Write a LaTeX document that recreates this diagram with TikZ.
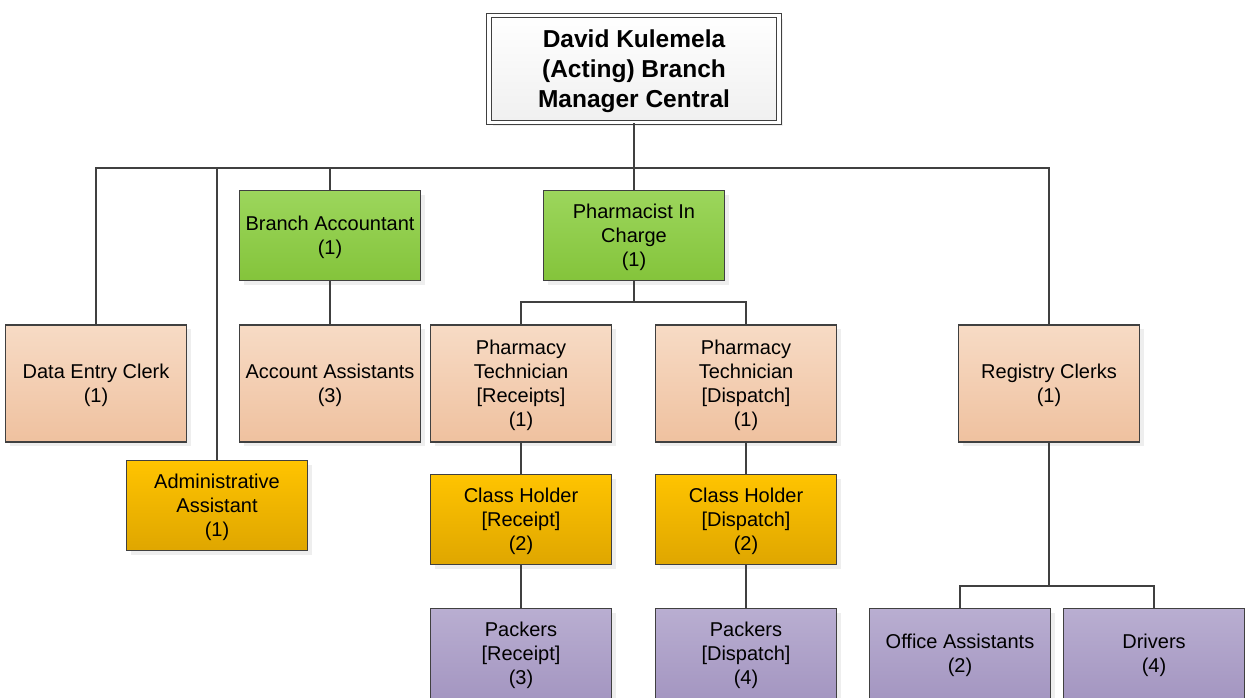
\documentclass[tikz,border=0pt]{standalone}
\usepackage{fontspec}
\setmainfont{Liberation Sans}
\usepackage{tikz}
\usetikzlibrary{shadows}
\usetikzlibrary{positioning}

\definecolor{edgegray}{HTML}{404040}
\definecolor{peachtop}{HTML}{F7DBC5}
\definecolor{peachbot}{HTML}{EFC19F}
\definecolor{greentop}{HTML}{9CD65C}
\definecolor{greenbot}{HTML}{84C43B}
\definecolor{ambertop}{HTML}{FFC400}
\definecolor{amberbot}{HTML}{DFA600}
\definecolor{lilactop}{HTML}{B9AED1}
\definecolor{lilacbot}{HTML}{A496C1}

\tikzset{post/.style = {draw=edgegray, line width=1.3pt, align=center,
                        minimum width=181pt, minimum height=90pt,
                        inner sep=2pt, text depth=0pt,
                        font=\fontsize{20}{24}\selectfont,
                        drop shadow={shadow xshift=4pt, shadow yshift=-4pt,
                                     fill=black!13}},
         peach/.style = {post, minimum height=117pt,
                         top color=peachtop, bottom color=peachbot},
         green/.style = {post, top color=greentop, bottom color=greenbot},
         amber/.style = {post, top color=ambertop, bottom color=amberbot},
         lilac/.style = {post, top color=lilactop, bottom color=lilacbot},
         link/.style = {draw=edgegray, line width=2pt}}

\begin{document}
\begin{tikzpicture}[x=1pt, y=-1pt]
      \useasboundingbox (0,0) rectangle (1245,698);

      % head of the branch
      \node [post, minimum width=290pt, minimum height=107pt,
             double=white, double distance=3.5pt, line width=1.2pt,
             top color=white, bottom color=black!6,
             font=\fontsize{24.5}{30}\selectfont\bfseries] (head) at (634,69)
            {David Kulemela\\(Acting) Branch\\Manager Central};

      % second level
      \node [green] (acct) at (330,235.5) {Branch Accountant\\(1)};
      \node [green] (pic) at (634,235.5) {Pharmacist In\\Charge\\(1)};

      % third level
      \node [peach] (dec) at (96,383.5) {Data Entry Clerk\\(1)};
      \node [peach] (accass) at (330,383.5) {Account Assistants\\(3)};
      \node [peach] (techrec) at (521,383.5) {Pharmacy\\Technician\\{[Receipts]}\\(1)};
      \node [peach] (techdis) at (746,383.5) {Pharmacy\\Technician\\{[Dispatch]}\\(1)};
      \node [peach] (registry) at (1049,383.5) {Registry Clerks\\(1)};

      \node [amber] (admin) at (217,505.5) {Administrative\\Assistant\\(1)};
      \node [amber] (classrec) at (521,519.5) {Class Holder\\{[Receipt]}\\(2)};
      \node [amber] (classdis) at (746,519.5) {Class Holder\\{[Dispatch]}\\(2)};

      \node [lilac] (packrec) at (521,653.5) {Packers\\{[Receipt]}\\(3)};
      \node [lilac] (packdis) at (746,653.5) {Packers\\{[Dispatch]}\\(4)};
      \node [lilac] (office) at (960,653.5) {Office Assistants\\(2)};
      \node [lilac] (drivers) at (1154,653.5) {Drivers\\(4)};

      % connectors
      \coordinate (bus) at (634,168);
      \coordinate (picbus) at (634,302);
      \coordinate (regbus) at (1049,586);

      \draw [link] (head.south) -- (bus);
      \foreach \n in {dec,admin,acct,pic,registry}
        \draw [link] (\n.north) |- (bus);
      \draw [link] (acct.south) -- (accass.north);
      \draw [link] (pic.south) -- (picbus);
      \foreach \n in {techrec,techdis}
        \draw [link] (\n.north) |- (picbus);
      \draw [link] (techrec.south) -- (classrec.north);
      \draw [link] (classrec.south) -- (packrec.north);
      \draw [link] (techdis.south) -- (classdis.north);
      \draw [link] (classdis.south) -- (packdis.north);
      \draw [link] (registry.south) -- (regbus);
      \foreach \n in {office,drivers}
        \draw [link] (\n.north) |- (regbus);
    \end{tikzpicture}
\end{document}
